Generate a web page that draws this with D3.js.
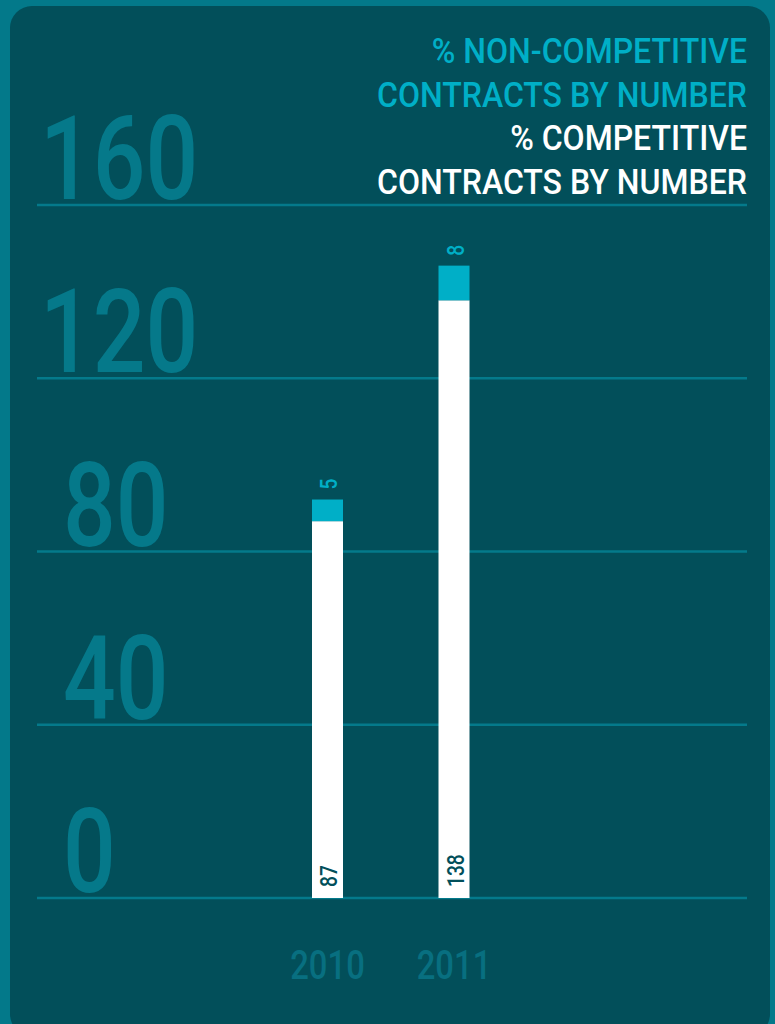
<!DOCTYPE html>
<html>
<head>
<meta charset="utf-8">
<script src="https://cdn.jsdelivr.net/npm/d3@7"></script>
<style>
  html, body { margin: 0; padding: 0; background: #03798a; }
  svg { display: block; }
  text { font-family: Roboto, "Liberation Sans", Arial, sans-serif; font-weight: 500; }
</style>
</head>
<body>
<div id="chart"></div>
<script>
const years = ["2010", "2011"];
const competitive = [87, 138];
const nonCompetitive = [5, 8];
const yTicks = [0, 40, 80, 120, 160];
const legendLines = [
  ["% NON-COMPETITIVE", "nc"],
  ["CONTRACTS BY NUMBER", "nc"],
  ["% COMPETITIVE", "c"],
  ["CONTRACTS BY NUMBER", "c"],
];

const width = 775,
  height = 1024;
// squeeze the face horizontally to look condensed
const narrowDigits = 0.8,
  narrowCaps = 0.89;
const colors = {
  outer: "#03798a",
  panel: "#024f5a",
  grid: "#047a8b",
  tick: "#05798a",
  year: "#086f80",
  cyan: "#00afc7",
  white: "#ffffff",
};

const svg = d3
  .select("#chart")
  .append("svg")
  .attr("width", width)
  .attr("height", height);

svg
  .append("rect")
  .attr("width", width)
  .attr("height", height)
  .attr("fill", colors.outer);

svg
  .append("rect")
  .attr("x", 10)
  .attr("y", 6)
  .attr("width", 760)
  .attr("height", 1030)
  .attr("rx", 22)
  .attr("fill", colors.panel);

const y = d3.scaleLinear().domain([0, 160]).range([898, 205]);
const x = d3.scalePoint().domain(years).range([327.5, 454]);
const barW = 31;

// gridlines + big tick labels
svg
  .selectAll(".grid")
  .data(yTicks)
  .enter()
  .append("line")
  .attr("x1", 37)
  .attr("x2", 747)
  .attr("y1", (d) => y(d))
  .attr("y2", (d) => y(d))
  .attr("stroke", colors.grid)
  .attr("stroke-width", 2.5);

svg
  .selectAll(".tick-label")
  .data(yTicks)
  .enter()
  .append("text")
  .attr("transform", (d) => `translate(${d >= 100 ? 40 : 63},${y(d) - 6}) scale(${narrowDigits},1)`)
  .attr("font-size", 116)
  .attr("fill", colors.tick)
  .text((d) => d);

const rows = years.map((yr, i) => ({
  year: yr,
  c: competitive[i],
  nc: nonCompetitive[i],
}));

// competitive (white)
svg
  .selectAll(".bar-c")
  .data(rows)
  .enter()
  .append("rect")
  .attr("x", (d) => x(d.year) - barW / 2)
  .attr("y", (d) => y(d.c))
  .attr("width", barW)
  .attr("height", (d) => y(0) - y(d.c))
  .attr("fill", colors.white);

// non-competitive (cyan) stacked on top
svg
  .selectAll(".bar-nc")
  .data(rows)
  .enter()
  .append("rect")
  .attr("x", (d) => x(d.year) - barW / 2)
  .attr("y", (d) => y(d.c + d.nc))
  .attr("width", barW)
  .attr("height", (d) => y(d.c) - y(d.c + d.nc))
  .attr("fill", colors.cyan);

// value labels inside white bars
svg
  .selectAll(".lbl-c")
  .data(rows)
  .enter()
  .append("text")
  .attr("transform", (d) => `translate(${x(d.year) + 1},${y(0) - 11}) rotate(-90) scale(${narrowDigits},1)`)
  .attr("dy", "0.36em")
  .attr("font-size", 24)
  .attr("fill", colors.panel)
  .text((d) => d.c);

// value labels above bars
svg
  .selectAll(".lbl-nc")
  .data(rows)
  .enter()
  .append("text")
  .attr("transform", (d) => `translate(${x(d.year) + 1},${y(d.c + d.nc) - 10}) rotate(-90) scale(${narrowDigits},1)`)
  .attr("dy", "0.36em")
  .attr("font-size", 24)
  .attr("fill", colors.cyan)
  .text((d) => d.nc);

// year labels
svg
  .selectAll(".year")
  .data(years)
  .enter()
  .append("text")
  .attr("transform", (d) => `translate(${x(d)},979) scale(${narrowDigits},1)`)
  .attr("text-anchor", "middle")
  .attr("font-size", 41)
  .attr("fill", colors.year)
  .text((d) => d);

// legend
svg
  .selectAll(".legend")
  .data(legendLines)
  .enter()
  .append("text")
  .attr("transform", (d, i) => `translate(747,${63 + i * 43.5}) scale(${narrowCaps},1)`)
  .attr("text-anchor", "end")
  .attr("font-size", 36)
  .attr("fill", (d) => (d[1] === "nc" ? colors.cyan : colors.white))
  .text((d) => d[0]);
</script>
</body>
</html>
